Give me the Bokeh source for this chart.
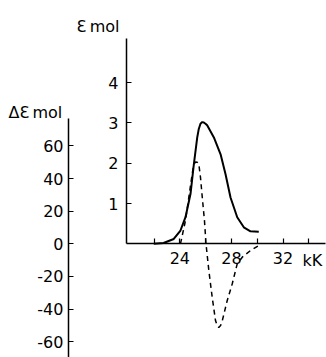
from bokeh.plotting import figure
from bokeh.models import LinearAxis, Range1d, FixedTicker, Label
from bokeh.embed import file_html
from bokeh.resources import INLINE

# ---- data ----
wavenumber_eps = [21.98, 22.74, 23.53, 24.05, 24.44, 24.83, 25.09, 25.35, 25.47, 25.60,
                  25.74, 25.86, 25.99, 26.12, 26.64, 27.16, 27.54, 27.93, 28.45, 28.96,
                  29.48, 30.12]
eps_mol = [0.0, 0.02, 0.12, 0.33, 0.66, 1.24, 1.98, 2.64, 2.85, 2.98,
           3.02, 3.01, 2.98, 2.94, 2.64, 2.22, 1.73, 1.15, 0.66, 0.41,
           0.31, 0.30]

wavenumber_cd = [24.05, 24.44, 24.70, 24.96, 25.09, 25.22, 25.35, 25.47, 25.60, 25.74,
                 25.91, 26.03, 26.25, 26.51, 26.77, 26.90, 27.02, 27.16, 27.29, 27.67,
                 28.06, 28.45, 28.84, 29.48, 30.12]
delta_eps_mol = [0.0, 14.3, 28.6, 42.9, 49.0, 50.1, 50.0, 49.1, 40.9, 28.6,
                 14.3, 0.0, -16.4, -32.8, -47.2, -50.1, -51.3, -50.1, -47.2, -34.9,
                 -24.6, -12.3, -8.2, -4.1, -1.0]

x_major_ticks = [24, 28, 32]
x_minor_ticks = [22, 26, 30, 34]
eps_ticks = [1, 2, 3, 4]
delta_ticks = [-60, -40, -20, 0, 20, 40, 60]
delta_tick_labels = ["-60", "-40", "-20", "0", "20", "40", "60"]

FONT = "DejaVu Sans"

p = figure(width=326, height=357, output_backend="svg", toolbar_location=None,
           x_axis_location=None, y_axis_location=None,
           x_range=Range1d(10.10, 35.37), y_range=Range1d(-2.821, 6.037),
           min_border_left=0, min_border_right=0, min_border_top=0, min_border_bottom=0)
p.extra_y_ranges = {"de": Range1d(-69.7, 149.2)}
p.outline_line_color = None
p.xgrid.visible = False
p.ygrid.visible = False
p.background_fill_color = "white"
p.border_fill_color = "white"


def style(ax, standoff):
    ax.axis_line_color = "black"
    ax.axis_line_width = 1.5
    ax.major_tick_line_color = "black"
    ax.major_tick_line_width = 1.2
    ax.minor_tick_line_color = "black"
    ax.minor_tick_line_width = 1.2
    ax.major_tick_in = 5
    ax.major_tick_out = 0
    ax.minor_tick_in = 5
    ax.minor_tick_out = 0
    ax.major_label_text_font = FONT
    ax.major_label_text_font_size = "16px"
    ax.major_label_text_color = "black"
    ax.major_label_standoff = standoff


# x axis along eps = 0
xax = LinearAxis(ticker=FixedTicker(ticks=x_major_ticks, minor_ticks=x_minor_ticks),
                 fixed_location=0, bounds=(19.87, 35.3))
style(xax, 8)
p.add_layout(xax, "below")

# epsilon axis
eax = LinearAxis(ticker=FixedTicker(ticks=eps_ticks, minor_ticks=[]),
                 fixed_location=19.87, bounds=(0, 5.1))
style(eax, 8)
p.add_layout(eax, "left")

# delta epsilon axis
dax = LinearAxis(y_range_name="de", ticker=FixedTicker(ticks=delta_ticks, minor_ticks=[]),
                 fixed_location=15.37, bounds=(-69.7, 77))
style(dax, 5)
dax.major_label_overrides = {t: s for t, s in zip(delta_ticks, delta_tick_labels)}
p.add_layout(dax, "left")

p.line(wavenumber_eps, eps_mol, line_color="black", line_width=2)
p.line(wavenumber_cd, delta_eps_mol, y_range_name="de", line_color="black",
       line_width=1.5, line_dash="5 4")

p.add_layout(Label(x=16.0, y=5.39, text="\u0190\u2009mol", text_font=FONT,
                   text_font_size="16px", text_color="black", text_baseline="alphabetic"))
p.add_layout(Label(x=10.72, y=3.26, text="\u0394\u0190\u2009mol", text_font=FONT,
                   text_font_size="16px", text_color="black", text_baseline="alphabetic"))
p.add_layout(Label(x=33.51, y=-0.19, text="kK", text_font=FONT, text_align="left",
                   text_font_size="16px", text_color="black", text_baseline="top"))

open("out.html", "w").write(file_html(p, INLINE))
